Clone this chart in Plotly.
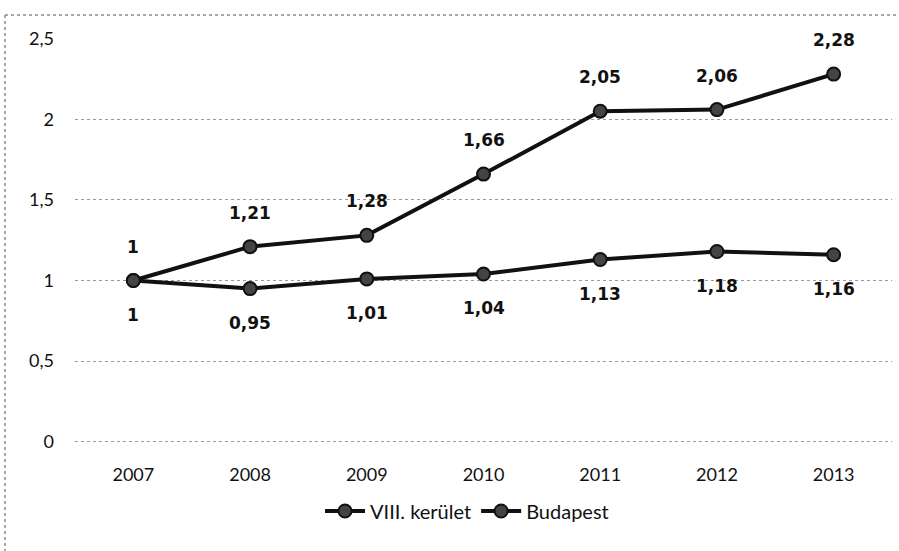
import plotly.graph_objects as go

years = ["2007", "2008", "2009", "2010", "2011", "2012", "2013"]
viii_kerulet = [1, 1.21, 1.28, 1.66, 2.05, 2.06, 2.28]
budapest = [1, 0.95, 1.01, 1.04, 1.13, 1.18, 1.16]
y_ticks = [0, 0.5, 1, 1.5, 2, 2.5]
y_tick_text = ["0", "0,5", "1", "1,5", "2", "2,5"]

pos = list(range(len(years)))


def hu(v):
    return f"{v:g}".replace(".", ",")


TICK_FONT = dict(family="Lato, Calibri, sans-serif", size=18, color="#111")
LEGEND_FONT = dict(family="Lato, Calibri, sans-serif", size=20, color="#111")
LABEL_FONT = dict(family="DejaVu Sans", size=17, color="#111")

fig = go.Figure()
for name, vals in [("VIII. kerület", viii_kerulet), ("Budapest", budapest)]:
    fig.add_trace(go.Scatter(
        x=pos, y=vals, name=name, mode="lines+markers",
        line=dict(color="#111", width=4),
        marker=dict(size=13, color="#444", line=dict(color="#111", width=2)),
    ))

# value labels: above for VIII. kerület, below for Budapest
for vals, shift in [(viii_kerulet, 34), (budapest, -34)]:
    for x, v in zip(pos, vals):
        fig.add_annotation(x=x, y=v, text="<b>" + hu(v) + "</b>", showarrow=False,
                           yshift=shift, font=LABEL_FONT)

L, R, T, B = 75, 7, 38, 106
W, H = 899, 551
pw, ph = W - L - R, H - T - B

def px(x):
    return (x - L) / pw

def py(y):
    return (H - B - y) / ph

# chart frame (top and left edges)
frame = dict(color="#8a8a8a", width=1.5, dash="dot")
fig.add_shape(type="line", xref="paper", yref="paper", x0=px(5), y0=py(15), x1=px(W + 5), y1=py(15), line=frame)
fig.add_shape(type="line", xref="paper", yref="paper", x0=px(5), y0=py(15), x1=px(5), y1=py(H + 5), line=frame)

fig.update_layout(
    width=W, height=H,
    margin=dict(l=L, r=R, t=T, b=B),
    paper_bgcolor="white", plot_bgcolor="white",
    showlegend=True,
    legend=dict(orientation="h", x=px(467), xanchor="center", y=py(511), yanchor="middle",
                font=LEGEND_FONT, itemwidth=40, tracegroupgap=0),
    xaxis=dict(range=[-0.5, len(years) - 0.5], tickvals=pos, ticktext=years,
               showgrid=False, showline=False, zeroline=False,
               tickfont=TICK_FONT, ticks="", ticklabelstandoff=17),
    yaxis=dict(range=[-0.02, 2.504], tickvals=y_ticks, ticktext=y_tick_text, showgrid=True,
               gridcolor="#9a9a9a", griddash="dot", gridwidth=1, zeroline=False,
               showline=False, tickfont=TICK_FONT, ticklabelstandoff=20),
)

fig.write_html("out.html")
